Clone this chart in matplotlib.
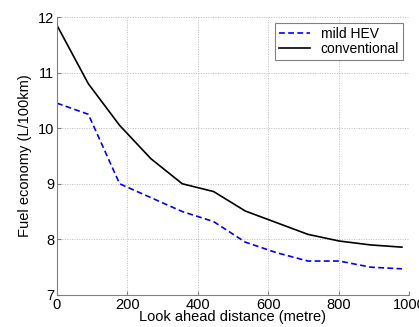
import matplotlib
matplotlib.use("Agg")
import matplotlib.pyplot as plt

# look ahead distance (metre)
distance = [0, 89, 178, 267, 356, 445, 535, 624, 713, 802, 891, 980]
# fuel economy (L/100km)
mild_hev = [10.45, 10.25, 9.0, 8.75, 8.5, 8.32, 7.95, 7.76, 7.61, 7.61, 7.5, 7.47]
conventional = [11.85, 10.8, 10.05, 9.45, 9.0, 8.86, 8.51, 8.3, 8.09, 7.97, 7.9, 7.86]

plt.rcParams["font.family"] = ["Liberation Sans", "DejaVu Sans"]
plt.rcParams["font.size"] = 10.5

fig = plt.figure(figsize=(4.19, 3.27), dpi=100)
ax = fig.add_axes([0.136, 0.098, 0.840, 0.850])

ax.plot(distance, mild_hev, color="#0000ff", linestyle=(0, (3.5, 2)), linewidth=1.2, label="mild HEV")
ax.plot(distance, conventional, color="black", linewidth=1.2, label="conventional")

ax.set_xlim(0, 1000)
ax.set_ylim(7, 12)
ax.set_xticks([0, 200, 400, 600, 800, 1000])
ax.set_yticks([7, 8, 9, 10, 11, 12])
ax.grid(True, color="#bbbbbb", linestyle=(0, (1, 1.5)), linewidth=0.7)

for side in ["top", "right"]:
    ax.spines[side].set_visible(False)
for side in ["left", "bottom"]:
    ax.spines[side].set_color("#808080")
ax.tick_params(direction="in", length=3, color="#808080", pad=2)

ax.set_xlabel("Look ahead distance (metre)", labelpad=-1)
ax.set_ylabel("Fuel economy (L/100km)", labelpad=4)

leg = ax.legend(loc="upper right", fancybox=False, framealpha=1, edgecolor="#808080",
                fontsize=10, handlelength=2.2, borderpad=0.3, labelspacing=0.1,
                handletextpad=0.8, borderaxespad=0.4)
leg.get_frame().set_linewidth(0.8)

fig.savefig("out.png", dpi=100)
